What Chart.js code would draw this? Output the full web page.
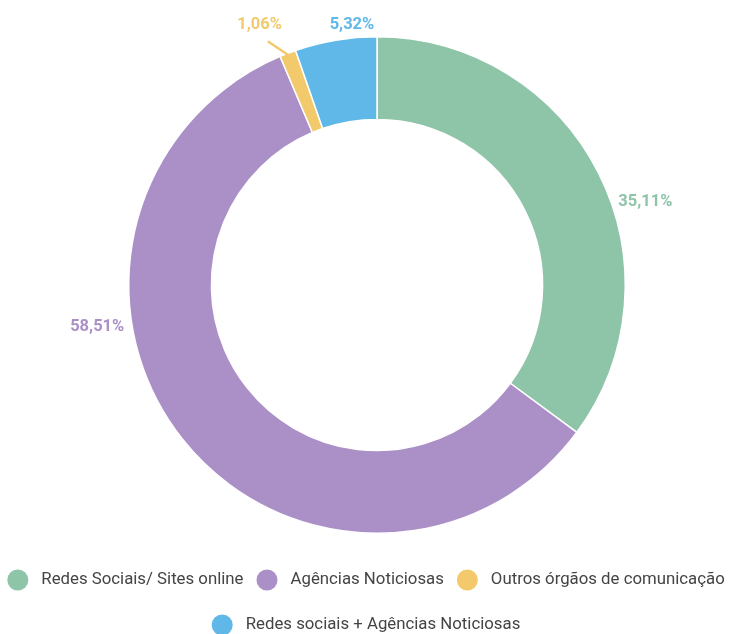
<!DOCTYPE html>
<html>
<head>
<meta charset="utf-8">
<script src="https://cdn.jsdelivr.net/npm/chart.js@4/dist/chart.umd.min.js"></script>
<style>
  html, body { margin: 0; padding: 0; background: #fff; }
  #wrap { width: 732px; height: 634px; }
</style>
</head>
<body>
<div id="wrap"><canvas id="chart1"></canvas></div>
<script>
const categories = [
  "Redes Sociais/ Sites online",
  "Agências Noticiosas",
  "Outros órgãos de comunicação",
  "Redes sociais + Agências Noticiosas"
];
const shares = [35.11, 58.51, 1.06, 5.32];
const colors = ["#8ec4a8", "#ab90c8", "#f2ca6c", "#5fb8e7"];

// where each percentage label sits: angle (deg, canvas coords), distance past the ring
const labelSpots = [
  { angle: -19, gap: 7, align: "left" },
  { angle: 170.5, gap: 8, align: "right" },
  { angle: -114.3, gap: 37, align: "center", leader: -146 },
  { angle: -95.5, gap: 13, align: "center" }
];

const fmt = (v) => v.toFixed(2).replace(".", ",") + "%";

const valueLabels = {
  id: "valueLabels",
  afterDatasetsDraw(chart) {
    const ctx = chart.ctx;
    const meta = chart.getDatasetMeta(0);
    ctx.save();
    ctx.font = "bold 16.5px Roboto";
    ctx.textBaseline = "middle";
    meta.data.forEach((arc, i) => {
      const spot = labelSpots[i];
      const { x, y, outerRadius, startAngle, endAngle } = arc.getProps(
        ["x", "y", "outerRadius", "startAngle", "endAngle"], true);
      const a = spot.angle * Math.PI / 180;
      const r = outerRadius + spot.gap;
      if (spot.leader !== undefined) {
        // short slanted pointer from the thin slice up to its label
        const mid = (startAngle + endAngle) / 2;
        const sx = x + Math.cos(mid) * (outerRadius - 2);
        const sy = y + Math.sin(mid) * (outerRadius - 2);
        const la = spot.leader * Math.PI / 180;
        ctx.strokeStyle = colors[i];
        ctx.lineWidth = 2.5;
        ctx.beginPath();
        ctx.moveTo(sx, sy);
        ctx.lineTo(sx + Math.cos(la) * 25, sy + Math.sin(la) * 25);
        ctx.stroke();
      }
      ctx.fillStyle = colors[i];
      ctx.textAlign = spot.align;
      ctx.fillText(fmt(shares[i]), x + Math.cos(a) * r, y + Math.sin(a) * r);
    });
    ctx.restore();
  }
};

// legend with round markers, wrapped and centred under the ring
const roundLegend = {
  id: "roundLegend",
  afterDraw(chart) {
    const ctx = chart.ctx;
    const W = chart.width;
    const dot = 10.5, textGap = 13, itemGap = 13;
    ctx.save();
    ctx.font = "16.8px Roboto";
    const items = categories.map((c, i) => ({
      text: c, color: colors[i],
      w: dot * 2 + textGap + ctx.measureText(c).width
    }));
    const rows = [[]];
    let rowW = 0;
    items.forEach((it) => {
      const add = (rows[rows.length - 1].length ? itemGap : 0) + it.w;
      if (rows[rows.length - 1].length && rowW + add > W) {
        rows.push([it]);
        rowW = it.w;
      } else {
        rows[rows.length - 1].push(it);
        rowW += add;
      }
    });
    const firstY = 580, rowStep = 45;
    ctx.textBaseline = "middle";
    ctx.textAlign = "left";
    rows.forEach((row, r) => {
      const total = row.reduce((s, it) => s + it.w, 0) + itemGap * (row.length - 1);
      let cx = (W - total) / 2;
      const cy = firstY + r * rowStep;
      row.forEach((it) => {
        ctx.fillStyle = it.color;
        ctx.beginPath();
        ctx.arc(cx + dot, cy, dot, 0, Math.PI * 2);
        ctx.fill();
        ctx.fillStyle = "#444";
        ctx.fillText(it.text, cx + dot * 2 + textGap, cy);
        cx += it.w + itemGap;
      });
    });
    ctx.restore();
  }
};

new Chart(document.getElementById("chart1"), {
  type: "doughnut",
  data: {
    labels: categories,
    datasets: [{
      data: shares,
      backgroundColor: colors,
      borderColor: "#fff",
      borderWidth: 1.5,
      hoverOffset: 0
    }]
  },
  options: {
    responsive: true,
    maintainAspectRatio: false,
    animation: false,
    cutout: "66.7%",
    layout: { padding: { top: 36, bottom: 100, left: 22, right: 0 } },
    plugins: {
      legend: { display: false },
      tooltip: { enabled: false }
    }
  },
  plugins: [valueLabels, roundLegend]
});
</script>
</body>
</html>
